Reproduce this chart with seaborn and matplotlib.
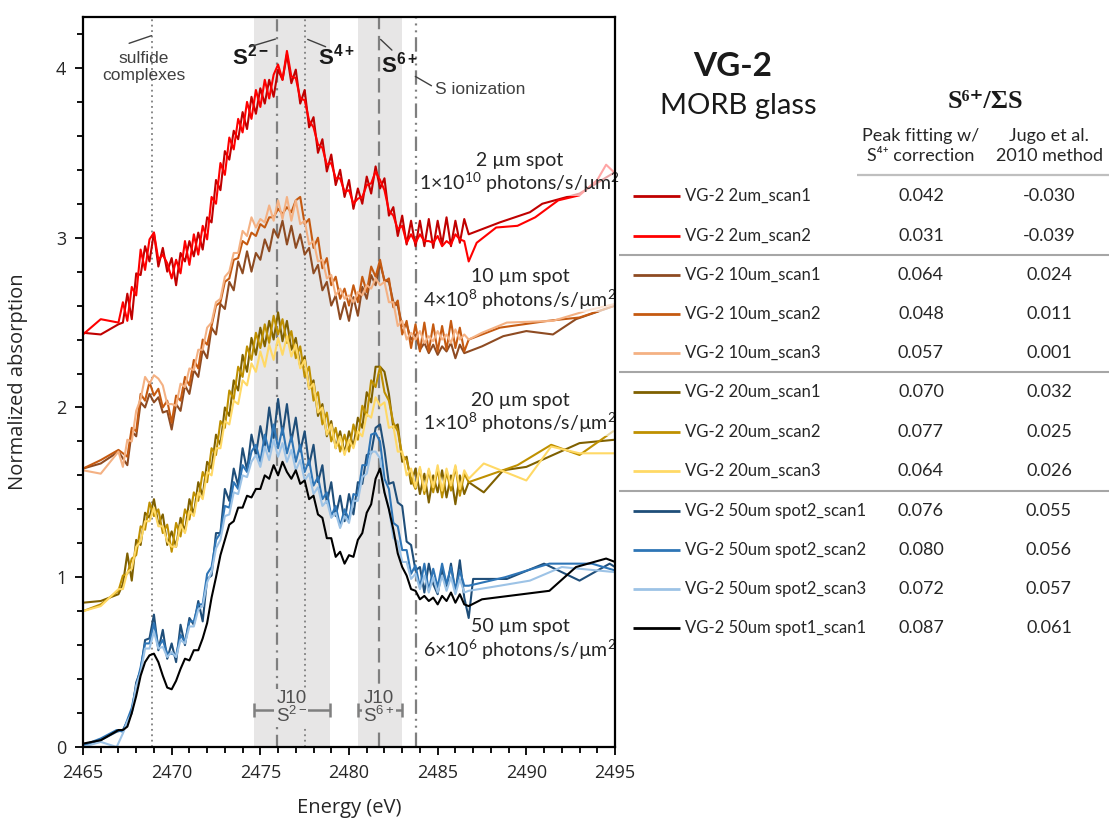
import numpy as np
import pandas as pd
import matplotlib
matplotlib.use("Agg")
import matplotlib.pyplot as plt
import seaborn as sns

# ---------------------------------------------------------------- data
fine_start = 2467.25
fine_step = 0.25

series_names = ["VG-2 2um_scan1", "VG-2 2um_scan2",
                "VG-2 10um_scan1", "VG-2 10um_scan2", "VG-2 10um_scan3",
                "VG-2 20um_scan1", "VG-2 20um_scan2", "VG-2 20um_scan3",
                "VG-2 50um spot2_scan1", "VG-2 50um spot2_scan2",
                "VG-2 50um spot2_scan3", "VG-2 50um spot1_scan1"]
series_colors = ["#C00000", "#FF0000",
                 "#8E4B22", "#C55A11", "#F4B183",
                 "#7F6000", "#BF9000", "#FFD966",
                 "#1F4E79", "#2E75B6", "#9DC3E6", "#000000"]
peak_fit = ["0.042", "0.031", "0.064", "0.048", "0.057", "0.070",
            "0.077", "0.064", "0.076", "0.080", "0.072", "0.087"]
jugo_2010 = ["-0.030", "-0.039", "0.024", "0.011", "0.001", "0.032",
             "0.025", "0.026", "0.055", "0.056", "0.057", "0.061"]
group_sizes = [2, 3, 3, 4]

# --- 2 um
r1_pre_e = [2465, 2466, 2467]
r1_pre = [2.44, 2.43, 2.49]
r1_fine = [2.50, 2.67, 2.52, 2.79, 2.78, 2.95, 2.86, 3.03, 2.83, 2.94,
           2.80, 2.88, 2.72, 2.91, 2.86, 2.98, 2.89, 3.03, 2.93, 3.12,
           3.09, 3.34, 3.28, 3.51, 3.46, 3.63, 3.58, 3.74, 3.64, 3.83,
           3.73, 3.88, 3.79, 3.93, 3.83, 3.99, 3.93, 4.08, 3.91, 3.99,
           3.79, 3.87, 3.65, 3.71, 3.50, 3.58, 3.39, 3.49, 3.31, 3.40,
           3.24, 3.34, 3.17, 3.29, 3.20, 3.36, 3.26, 3.42, 3.29, 3.35,
           3.13, 3.18, 3.01, 3.13, 2.96, 3.10, 2.95, 3.10, 2.95, 3.11,
           2.94, 3.10, 2.96, 3.12, 2.95, 3.10, 2.97, 3.11, 3.02]
r1_post_e = [2487.5, 2488.5, 2490.2, 2490.9, 2493.0, 2494.9]
r1_post = [3.05, 3.09, 3.15, 3.20, 3.26, 3.38]

r2_pre_e = [2465, 2466, 2467]
r2_pre = [2.43, 2.52, 2.50]
r2_fine = [2.62, 2.51, 2.71, 2.66, 2.93, 2.81, 2.99, 3.03, 2.87, 2.90,
           2.85, 2.76, 2.87, 2.79, 2.98, 2.84, 3.02, 2.90, 3.07, 2.99,
           3.24, 3.20, 3.44, 3.37, 3.59, 3.52, 3.70, 3.62, 3.80, 3.70,
           3.87, 3.77, 3.93, 3.82, 3.96, 4.02, 3.93, 4.10, 3.95, 3.94,
           3.82, 3.81, 3.69, 3.65, 3.55, 3.53, 3.43, 3.44, 3.35, 3.35,
           3.27, 3.28, 3.20, 3.23, 3.24, 3.31, 3.32, 3.39, 3.34, 3.28,
           3.16, 3.13, 3.05, 3.07, 2.97, 3.02, 2.97, 3.02, 2.98, 2.98,
           2.97, 3.01, 2.95, 2.98, 2.96, 3.02, 2.99, 2.98, 2.86]
r2_post_e = [2487.2, 2488.3, 2489.5, 2490.5, 2491.8, 2493.0, 2494.0, 2494.5, 2495.0]
r2_post = [2.97, 3.06, 3.07, 3.12, 3.22, 3.25, 3.34, 3.43, 3.38]

# --- 10 um
o1_pre_e = [2465, 2466, 2467]
o1_pre = [1.64, 1.67, 1.74]
o1_fine = [1.70, 1.66, 1.86, 1.83, 2.03, 2.00, 2.08, 2.03, 2.06, 1.97,
           1.98, 1.87, 2.02, 1.98, 2.13, 2.08, 2.22, 2.18, 2.34, 2.29,
           2.47, 2.43, 2.61, 2.58, 2.74, 2.69, 2.86, 2.79, 2.92, 2.80,
           2.91, 2.87, 2.99, 2.92, 3.05, 3.00, 3.10, 2.96, 3.07, 2.94,
           3.02, 2.90, 2.94, 2.79, 2.84, 2.69, 2.74, 2.60, 2.66, 2.52,
           2.62, 2.51, 2.65, 2.54, 2.71, 2.64, 2.78, 2.72, 2.85, 2.75,
           2.74, 2.62, 2.60, 2.48, 2.49, 2.40, 2.43, 2.34, 2.38, 2.32,
           2.37, 2.31, 2.36, 2.33, 2.38, 2.29, 2.37, 2.32, 2.33]
o1_post_e = [2487.5, 2488.7, 2490.0, 2491.5, 2492.8, 2495.0]
o1_post = [2.36, 2.42, 2.45, 2.43, 2.52, 2.60]

o2_pre_e = [2465, 2466, 2467]
o2_pre = [1.64, 1.69, 1.75]
o2_fine = [1.73, 1.71, 1.88, 1.86, 2.08, 2.04, 2.15, 2.07, 2.11, 2.00,
           2.04, 1.91, 2.07, 2.04, 2.18, 2.13, 2.28, 2.23, 2.40, 2.37,
           2.48, 2.60, 2.62, 2.74, 2.76, 2.87, 2.88, 2.98, 2.96, 3.03,
           3.01, 3.08, 3.06, 3.12, 3.12, 3.17, 3.14, 3.18, 3.15, 3.22,
           3.24, 3.08, 3.11, 2.94, 3.00, 2.82, 2.88, 2.72, 2.77, 2.64,
           2.70, 2.60, 2.72, 2.62, 2.77, 2.68, 2.83, 2.77, 2.87, 2.74,
           2.76, 2.59, 2.63, 2.43, 2.51, 2.35, 2.49, 2.33, 2.50, 2.33,
           2.49, 2.33, 2.48, 2.34, 2.51, 2.35, 2.47, 2.33, 2.40]
o2_post_e = [2488.5, 2491.2, 2493.0, 2495.0]
o2_post = [2.47, 2.51, 2.53, 2.60]

o3_pre_e = [2465, 2466, 2467]
o3_pre = [1.63, 1.61, 1.74]
o3_fine = [1.65, 1.81, 1.80, 1.98, 2.05, 2.18, 2.14, 2.19, 2.17, 2.13,
           2.02, 2.02, 2.01, 2.14, 2.12, 2.23, 2.22, 2.34, 2.34, 2.47,
           2.50, 2.62, 2.64, 2.77, 2.80, 2.91, 2.91, 3.04, 3.01, 3.12,
           3.06, 3.11, 3.09, 3.19, 3.10, 3.22, 3.11, 3.24, 3.10, 3.22,
           3.08, 3.10, 2.96, 2.98, 2.86, 2.87, 2.76, 2.78, 2.66, 2.70,
           2.64, 2.66, 2.62, 2.68, 2.66, 2.72, 2.70, 2.76, 2.72, 2.74,
           2.62, 2.62, 2.48, 2.51, 2.40, 2.44, 2.40, 2.45, 2.38, 2.42,
           2.39, 2.45, 2.40, 2.43, 2.38, 2.46, 2.40, 2.43, 2.40]
o3_post_e = [2487.5, 2488.9, 2491.5, 2493.4, 2495.0]
o3_post = [2.44, 2.50, 2.51, 2.57, 2.61]

# --- 20 um
g1_pre_e = [2465, 2466, 2467]
g1_pre = [0.85, 0.86, 0.90]
g1_fine = [0.96, 1.14, 0.98, 1.22, 1.19, 1.38, 1.35, 1.46, 1.31, 1.37,
           1.19, 1.27, 1.18, 1.35, 1.27, 1.46, 1.37, 1.56, 1.48, 1.68,
           1.64, 1.84, 1.78, 2.00, 1.95, 2.16, 2.10, 2.31, 2.21, 2.41,
           2.31, 2.47, 2.36, 2.51, 2.40, 2.56, 2.39, 2.51, 2.34, 2.41,
           2.24, 2.30, 2.11, 2.16, 1.95, 2.02, 1.83, 1.92, 1.76, 1.86,
           1.73, 1.86, 1.77, 1.94, 1.88, 2.09, 2.03, 2.24, 2.24, 2.21,
           2.08, 1.88, 1.90, 1.68, 1.71, 1.55, 1.64, 1.49, 1.61, 1.44,
           1.60, 1.50, 1.63, 1.47, 1.60, 1.43, 1.60, 1.49, 1.56]
g1_post_e = [2487.6, 2488.7, 2490.0, 2493.0, 2495.0]
g1_post = [1.50, 1.63, 1.65, 1.79, 1.81]

g2_pre_e = [2465, 2466, 2467]
g2_pre = [0.80, 0.84, 0.92]
g2_fine = [1.01, 1.02, 1.11, 1.13, 1.30, 1.28, 1.44, 1.36, 1.40, 1.26,
           1.31, 1.15, 1.32, 1.24, 1.40, 1.34, 1.50, 1.45, 1.62, 1.56,
           1.76, 1.72, 1.92, 1.88, 2.10, 2.05, 2.24, 2.18, 2.36, 2.28,
           2.44, 2.35, 2.49, 2.38, 2.54, 2.43, 2.52, 2.38, 2.45, 2.29,
           2.36, 2.18, 2.24, 2.04, 2.09, 1.90, 1.97, 1.80, 1.88, 1.74,
           1.84, 1.74, 1.90, 1.81, 2.01, 1.95, 2.16, 2.12, 2.24, 2.09,
           2.04, 1.91, 1.86, 1.72, 1.69, 1.58, 1.52, 1.64, 1.49, 1.63,
           1.50, 1.64, 1.47, 1.62, 1.51, 1.65, 1.48, 1.61, 1.56]
g2_post_e = [2489.5, 2491.4, 2493.0, 2494.9]
g2_post = [1.66, 1.78, 1.72, 1.86]

g3_pre_e = [2465, 2466, 2467]
g3_pre = [0.80, 0.83, 0.93]
g3_fine = [0.93, 1.03, 1.05, 1.18, 1.21, 1.33, 1.33, 1.41, 1.30, 1.30,
           1.21, 1.18, 1.18, 1.31, 1.26, 1.39, 1.36, 1.50, 1.46, 1.62,
           1.60, 1.76, 1.76, 1.92, 1.90, 2.04, 2.02, 2.16, 2.13, 2.26,
           2.21, 2.33, 2.24, 2.37, 2.28, 2.41, 2.31, 2.42, 2.30, 2.37,
           2.23, 2.28, 2.11, 2.14, 1.97, 2.00, 1.84, 1.90, 1.76, 1.83,
           1.72, 1.81, 1.76, 1.86, 1.83, 1.96, 1.94, 2.06, 2.01, 2.03,
           1.88, 1.89, 1.74, 1.74, 1.60, 1.64, 1.53, 1.65, 1.51, 1.64,
           1.53, 1.66, 1.51, 1.64, 1.54, 1.66, 1.52, 1.63, 1.58]
g3_post_e = [2487.6, 2490.0, 2491.4, 2493.0, 2495.0]
g3_post = [1.67, 1.57, 1.77, 1.73, 1.73]

# --- 50 um
b1_pre_e = [2465, 2466, 2466.9]
b1_pre = [0.01, 0.04, 0.09]
b1_fine = [0.10, 0.15, 0.20, 0.38, 0.45, 0.63, 0.64, 0.78, 0.57, 0.69,
           0.52, 0.61, 0.50, 0.72, 0.60, 0.76, 0.72, 0.86, 0.74, 0.99,
           1.01, 1.26, 1.26, 1.52, 1.45, 1.64, 1.54, 1.76, 1.63, 1.84,
           1.72, 1.89, 1.77, 2.00, 1.82, 2.05, 1.84, 2.02, 1.80, 1.94,
           1.74, 1.86, 1.66, 1.78, 1.56, 1.66, 1.44, 1.56, 1.36, 1.48,
           1.33, 1.49, 1.37, 1.56, 1.55, 1.72, 1.73, 1.88, 1.90, 1.75,
           1.55, 1.56, 1.44, 1.42, 1.21, 1.19, 1.04, 1.06, 0.91, 1.08,
           0.96, 0.90, 1.05, 0.93, 1.08, 0.91, 1.10, 0.88, 0.76]
b1_post_e = [2487.0, 2488.9, 2491.0, 2493.0, 2494.7, 2495.0]
b1_post = [0.99, 0.99, 1.08, 0.98, 1.08, 1.06]

b2_pre_e = [2465, 2466, 2466.9]
b2_pre = [0.01, 0.05, 0.10]
b2_fine = [0.09, 0.16, 0.23, 0.36, 0.47, 0.61, 0.61, 0.73, 0.59, 0.63,
           0.55, 0.55, 0.54, 0.66, 0.62, 0.74, 0.74, 0.84, 0.84, 1.02,
           1.06, 1.22, 1.26, 1.42, 1.41, 1.56, 1.52, 1.66, 1.62, 1.74,
           1.78, 1.68, 1.84, 1.74, 1.90, 1.76, 1.88, 1.73, 1.83, 1.68,
           1.78, 1.62, 1.69, 1.54, 1.59, 1.46, 1.50, 1.36, 1.42, 1.30,
           1.40, 1.34, 1.49, 1.48, 1.66, 1.66, 1.84, 1.85, 1.80, 1.58,
           1.52, 1.32, 1.30, 1.16, 1.16, 1.02, 1.07, 0.94, 1.08, 0.92,
           1.05, 0.94, 1.08, 0.96, 1.06, 0.92, 1.04, 0.95, 0.95]
b2_post_e = [2488.8, 2491.3, 2493.7, 2495.0]
b2_post = [1.00, 1.08, 1.08, 1.04]

b3_pre_e = [2465, 2466, 2466.9]
b3_pre = [0.00, 0.03, 0.00]
b3_fine = [0.08, 0.15, 0.20, 0.36, 0.44, 0.58, 0.58, 0.68, 0.58, 0.59,
           0.53, 0.56, 0.53, 0.63, 0.61, 0.71, 0.71, 0.81, 0.83, 0.97,
           1.03, 1.17, 1.22, 1.36, 1.37, 1.50, 1.49, 1.60, 1.59, 1.68,
           1.72, 1.65, 1.77, 1.69, 1.81, 1.71, 1.79, 1.68, 1.75, 1.63,
           1.69, 1.57, 1.61, 1.49, 1.53, 1.42, 1.45, 1.35, 1.38, 1.29,
           1.36, 1.32, 1.45, 1.45, 1.59, 1.61, 1.74, 1.74, 1.70, 1.50,
           1.41, 1.23, 1.21, 1.09, 1.09, 0.99, 1.02, 0.93, 1.01, 0.91,
           1.00, 0.91, 1.01, 0.92, 1.00, 0.90, 0.99, 0.91, 0.92]
b3_post_e = [2488.5, 2490.2, 2492.0, 2495.0]
b3_post = [0.95, 0.98, 1.06, 1.03]

k1_pre_e = [2465, 2466, 2467]
k1_pre = [0.02, 0.04, 0.10]
k1_fine = [0.10, 0.12, 0.20, 0.30, 0.42, 0.50, 0.54, 0.55, 0.50, 0.42,
           0.35, 0.34, 0.39, 0.46, 0.52, 0.51, 0.57, 0.57, 0.64, 0.73,
           0.88, 1.00, 1.13, 1.22, 1.31, 1.33, 1.41, 1.41, 1.48, 1.47,
           1.52, 1.52, 1.60, 1.58, 1.66, 1.60, 1.68, 1.62, 1.58, 1.63,
           1.55, 1.57, 1.46, 1.48, 1.37, 1.35, 1.23, 1.23, 1.12, 1.15,
           1.08, 1.13, 1.12, 1.22, 1.26, 1.38, 1.43, 1.58, 1.64, 1.50,
           1.40, 1.28, 1.14, 1.06, 1.01, 0.93, 0.92, 0.87, 0.89, 0.86,
           0.88, 0.84, 0.89, 0.86, 0.91, 0.85, 0.90, 0.84, 0.83]
k1_post_e = [2487.5, 2491.3, 2492.8, 2494.5, 2495.0]
k1_post = [0.87, 0.92, 1.06, 1.11, 1.09]

# reference features
j10_bands = [(2474.65, 2478.95), (2480.5, 2483.0)]
j10_labels = ["J10\nS$^{2-}$", "J10\nS$^{6+}$"]
line_sulfide = 2468.9
line_s2 = 2475.95
line_s4 = 2477.5
line_s6 = 2481.7
line_ion = 2483.75

spot_texts = ["2 µm spot\n1×10$^{10}$ photons/s/µm$^{2}$",
              "10 µm spot\n4×10$^{8}$ photons/s/µm$^{2}$",
              "20 µm spot\n1×10$^{8}$ photons/s/µm$^{2}$",
              "50 µm spot\n6×10$^{6}$ photons/s/µm$^{2}$"]

# ---------------------------------------------------------------- build table
all_series = [
    (r1_pre_e, r1_pre, r1_fine, r1_post_e, r1_post),
    (r2_pre_e, r2_pre, r2_fine, r2_post_e, r2_post),
    (o1_pre_e, o1_pre, o1_fine, o1_post_e, o1_post),
    (o2_pre_e, o2_pre, o2_fine, o2_post_e, o2_post),
    (o3_pre_e, o3_pre, o3_fine, o3_post_e, o3_post),
    (g1_pre_e, g1_pre, g1_fine, g1_post_e, g1_post),
    (g2_pre_e, g2_pre, g2_fine, g2_post_e, g2_post),
    (g3_pre_e, g3_pre, g3_fine, g3_post_e, g3_post),
    (b1_pre_e, b1_pre, b1_fine, b1_post_e, b1_post),
    (b2_pre_e, b2_pre, b2_fine, b2_post_e, b2_post),
    (b3_pre_e, b3_pre, b3_fine, b3_post_e, b3_post),
    (k1_pre_e, k1_pre, k1_fine, k1_post_e, k1_post),
]
frames = []
for name, (pe, pv, fv, qe, qv) in zip(series_names, all_series):
    fe = list(np.round(fine_start + fine_step * np.arange(len(fv)), 3))
    e = list(pe) + fe + list(qe)
    v = list(pv) + list(fv) + list(qv)
    frames.append(pd.DataFrame({"energy": e, "absorption": v, "series": name}))
df = pd.concat(frames, ignore_index=True)

# ---------------------------------------------------------------- style
sns.set_style("ticks")
plt.rcParams["font.family"] = ["Open Sans", "DejaVu Sans"]
plt.rcParams["mathtext.default"] = "regular"

W, H = 1109, 821
fig = plt.figure(figsize=(W / 100, H / 100), dpi=100)
fig.patch.set_facecolor("white")
ax = fig.add_axes([83 / W, 1 - 747 / H, 532 / W, 730 / H])
ax.set_facecolor("white")

band_color = "#E7E6E6"
line_grey = "#7F7F7F"
for lo, hi in j10_bands:
    ax.axvspan(lo, hi, color=band_color, lw=0, zorder=0)

ax.axvline(line_sulfide, color=line_grey, lw=1.3, ls=(0, (1, 2)), zorder=1)
ax.axvline(line_s4, color=line_grey, lw=1.3, ls=(0, (1, 2)), zorder=1)
ax.axvline(line_s2, color=line_grey, lw=1.6, ls=(0, (5.5, 2.5, 1, 2.5)), zorder=1)
ax.axvline(line_s6, color=line_grey, lw=1.6, ls=(0, (6.5, 3)), zorder=1)
ax.axvline(line_ion, color=line_grey, lw=1.6,
           ls=(0, (6.5, 2.2, 0.9, 2.2, 0.9, 2.2)), zorder=1)

palette = dict(zip(series_names, series_colors))
sns.lineplot(data=df, x="energy", y="absorption", hue="series",
             hue_order=series_names, palette=palette, estimator=None,
             sort=False, units="series", lw=1.5, legend=False, ax=ax, zorder=2)

# J10 brackets
centers = [(lo + hi) / 2 for lo, hi in j10_bands]
halves = [(hi - lo) / 2 for lo, hi in j10_bands]
ax.errorbar(centers, [0.218] * len(centers), xerr=halves, fmt="none",
            ecolor=line_grey, elinewidth=1.8, capsize=5, capthick=1.8, zorder=3)
for c, lab in zip(centers, j10_labels):
    ax.text(c - 0.05, 0.228, lab, ha="center", va="center", fontsize=13.5,
            family=["Liberation Sans", "DejaVu Sans"], color="#505050",
            linespacing=0.92, zorder=4,
            bbox=dict(facecolor=band_color, edgecolor="none", pad=0.8))

# annotations top
ann_font = ["Liberation Sans", "DejaVu Sans"]
ax.text(2468.41, 4.006, "sulfide\ncomplexes", ha="center", va="center",
        fontsize=12.5, family=ann_font, color="#404040", linespacing=1.15, zorder=4)
ax.text(2484.85, 3.870, "S ionization", ha="left", va="center",
        fontsize=12.5, family=ann_font, color="#404040", zorder=4)
ax.text(2473.38, 4.018, "S$^{2-}$", ha="left", va="baseline", fontsize=16,
        fontweight="bold", family=ann_font, color="#1a1a1a", zorder=4)
ax.text(2478.25, 4.018, "S$^{4+}$", ha="left", va="baseline", fontsize=16,
        fontweight="bold", family=ann_font, color="#1a1a1a", zorder=4)
ax.text(2481.80, 3.971, "S$^{6+}$", ha="left", va="baseline", fontsize=16,
        fontweight="bold", family=ann_font, color="#1a1a1a", zorder=4)

leaders = [((2467.6, 4.145), (2468.86, 4.19)),
           ((2474.42, 4.125), (2475.85, 4.17)),
           ((2477.67, 4.168), (2478.68, 4.125)),
           ((2481.78, 4.168), (2482.42, 4.105)),
           ((2483.74, 3.95), (2484.65, 3.895))]
for p0, p1 in leaders:
    ax.annotate("", xy=p0, xytext=p1,
                arrowprops=dict(arrowstyle="-", color="#404040", lw=1.0,
                                shrinkA=0, shrinkB=0), zorder=4)

spot_y = [3.379, 2.692, 1.965, 0.630]
for txt, yy in zip(spot_texts, spot_y):
    ax.text(2489.64, yy, txt, ha="center", va="center", fontsize=14,
            family=["Lato", "DejaVu Sans"], color="#262626", zorder=4,
            linespacing=1.1,
            bbox=dict(facecolor="white", alpha=0.65, edgecolor="none", pad=0.5))

# axes formatting
ax.set_xlim(2465, 2495)
ax.set_ylim(0, 4.3)
ax.set_xticks(np.arange(2465, 2496, 5))
ax.set_xticks(np.arange(2465, 2496, 1), minor=True)
ax.set_yticks([0, 1, 2, 3, 4])
ax.set_yticks(np.arange(0, 4.31, 0.2), minor=True)
ax.tick_params(axis="both", which="major", direction="out", length=6,
               width=1.3, labelsize=13, color="black", labelcolor="#262626", pad=6)
ax.tick_params(axis="both", which="minor", direction="out", length=4,
               width=1.3, color="black")
ax.tick_params(top=False, right=False, which="both")
for sp in ax.spines.values():
    sp.set_visible(True)
    sp.set_color("black")
    sp.set_linewidth(1.6)
    sp.set_zorder(5)

ax.set_xlabel("Energy (eV)", fontsize=14.5, color="#262626")
ax.set_ylabel("Normalized absorption", fontsize=14.5, color="#262626")
ax.xaxis.label.set_va("center")
ax.yaxis.label.set_va("center")
ax.xaxis.set_label_coords(0.5, (747 - 808) / 730)
ax.yaxis.set_label_coords((18 - 83) / 532, 0.5)

# ---------------------------------------------------------------- right panel
ov = fig.add_axes([0, 0, 1, 1], facecolor="none")
ov.set_xlim(0, W)
ov.set_ylim(H, 0)
ov.axis("off")

cal = ["Lato", "DejaVu Sans"]
txt_col = "#262626"
ov.text(733, 66, "VG-2", ha="center", va="center", fontsize=24,
        fontweight="bold", family=cal, color="#1a1a1a")
ov.text(738, 106, "MORB glass", ha="center", va="center", fontsize=21,
        family=cal, color="#1a1a1a")
ov.text(985, 102, "S⁶⁺/ΣS", ha="center", va="center", fontsize=19,
        fontweight="bold", family=["Liberation Serif", "DejaVu Serif"],
        color="#1a1a1a")
ov.text(921, 146, "Peak fitting w/\nS⁴⁺ correction", ha="center",
        va="center", fontsize=13, family=cal, color=txt_col, linespacing=1.3)
ov.text(1049, 146, "Jugo et al.\n2010 method", ha="center", va="center",
        fontsize=13, family=cal, color=txt_col, linespacing=1.3)
ov.plot([857, 1109], [175, 175], color="#BFBFBF", lw=1.6,
        solid_capstyle="butt")

row_y = [196, 236, 275, 314, 353, 392, 432, 471, 511, 550, 589, 628]
for name, col, v1, v2, yy in zip(series_names, series_colors, peak_fit,
                                 jugo_2010, row_y):
    ov.plot([633, 680], [yy, yy], color=col, lw=2.0, solid_capstyle="butt")
    ov.text(685, yy, name, ha="left", va="center", fontsize=12, family=cal,
            color=txt_col)
    ov.text(921, yy, v1, ha="center", va="center", fontsize=13, family=cal,
            color=txt_col)
    ov.text(1049, yy, v2, ha="center", va="center", fontsize=13, family=cal,
            color=txt_col)

cum = np.cumsum(group_sizes)[:-1]
for c in cum:
    ys = (row_y[c - 1] + row_y[c]) / 2
    ov.plot([619, 1109], [ys, ys], color="#A6A6A6", lw=1.5,
            solid_capstyle="butt")

fig.savefig("out.png", dpi=100, facecolor="white")
